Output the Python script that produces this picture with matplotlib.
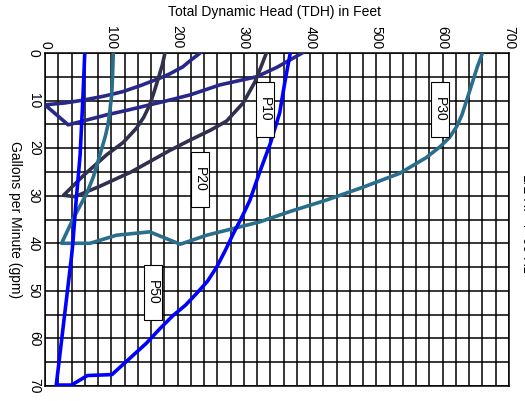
import matplotlib.pyplot as plt
from matplotlib.patches import Rectangle

plt.rcParams['font.family'] = ['Liberation Sans', 'DejaVu Sans']

# pump curves, head in feet vs flow in gpm (chart is drawn turned on its side)
blue_tdh = [370, 362, 354, 340, 324, 309, 297, 284, 272, 259, 245, 229, 212, 193, 173, 153, 127, 101,
            64, 40, 17, 40, 42, 47, 53, 57, 60]
blue_gpm = [0, 6, 12.6, 19, 25, 31, 34.5, 38, 41.5, 45, 48, 50.5, 53, 55.2, 58, 61, 64.3, 67.6,
            67.8, 69.8, 69.8, 42.8, 40, 31, 21.4, 10, 0]

teal_tdh = [660, 652, 644, 636, 629, 621, 610, 596, 575, 535, 480, 425, 370, 324, 244, 204, 158, 108,
            68, 25, 43, 63, 73, 85, 91, 95, 98, 100.6, 102, 103]
teal_gpm = [0, 3, 6.5, 10, 13, 15.5, 17.8, 19.7, 22, 25.3, 28.2, 30.9, 33.3, 35.5, 38.3, 40.2, 37.6, 38.3,
            40, 40, 34.7, 29.5, 26, 20.4, 17.5, 15.1, 12, 8.8, 4.5, 0]

indigo_tdh = [234, 220, 208, 188, 173, 145, 118, 88, 58, 30, 0, 35, 93, 125, 158, 188, 219, 264, 319, 350, 388]
indigo_gpm = [0, 1.5, 2.9, 4.4, 5.3, 6.8, 8.1, 9.1, 9.9, 10.5, 10.9, 15.1, 13, 12, 10.9, 9.9, 8.8, 6.7, 5, 3, 0]

dark_tdh = [181, 177, 171, 165, 158, 149, 138, 118, 93, 60, 28, 45, 83, 130, 188, 219, 250, 274, 299, 317, 327, 334]
dark_gpm = [0, 2.5, 5.3, 8, 10.9, 13.5, 15.8, 18.8, 21.4, 25.5, 29.9, 30.2, 28, 25, 20.5, 18.3, 16.2, 14.3,
            10.5, 6, 2.5, 0]

# curve labels: name, centre head, centre gpm
label_names = ['P10', 'P20', 'P30', 'P50']
label_tdh = [332, 234, 596, 163]
label_gpm = [11.9, 26.6, 11.8, 50.3]

fig = plt.figure(figsize=(5.25, 4.01), dpi=100)
ax = fig.add_axes([45 / 525, 15 / 401, 464 / 525, 333 / 401])

ax.plot(indigo_tdh, indigo_gpm, color='#28288a', lw=2.6, zorder=3, solid_joinstyle='round')
ax.plot(dark_tdh, dark_gpm, color='#30304f', lw=2.6, zorder=3, solid_joinstyle='round')
ax.plot(teal_tdh, teal_gpm, color='#2a6e8e', lw=2.6, zorder=3, solid_joinstyle='round')
ax.plot(blue_tdh, blue_gpm, color='#0000ff', lw=2.6, zorder=3, solid_joinstyle='round')

for name, x, y in zip(label_names, label_tdh, label_gpm):
    ax.add_patch(Rectangle((x - 13.5, y - 5.8), 27, 11.6, facecolor='white',
                           edgecolor='black', lw=0.8, zorder=4))
    ax.text(x, y, name, rotation=-90, ha='center', va='center', fontsize=10, zorder=5)

ax.set_xlim(0, 700)
ax.set_ylim(70, 0)
ax.set_xticks(range(0, 701, 100))
ax.set_xticks(range(0, 701, 20), minor=True)
ax.set_yticks(range(0, 71, 10))
ax.set_yticks(range(0, 71, 5), minor=True)
ax.xaxis.tick_top()
ax.tick_params(which='both', length=0)
ax.tick_params(axis='x', labelrotation=-90, pad=3, labelsize=10)
ax.tick_params(axis='y', labelrotation=-90, pad=3, labelsize=10)
for lab in ax.get_yticklabels():
    lab.set_va('center')
ax.grid(which='both', color='black', lw=1.1, zorder=1)
ax.set_axisbelow(True)
for sp in ax.spines.values():
    sp.set_linewidth(1.1)

fig.text(275 / 525, 1 - 12 / 401, 'Total Dynamic Head (TDH) in Feet', ha='center', va='center', fontsize=10)
fig.text(15 / 525, 1 - 220 / 401, 'Gallons per Minute (gpm)', rotation=-90, ha='center', va='center', fontsize=10)
# side caption is cut by the right edge in the original too
fig.text(527.0 / 525, 1 - 174 / 401, '1/2 HP 4" 60 Hz', rotation=-90, ha='center', va='top', fontsize=10)

fig.savefig('out.png', dpi=100)
